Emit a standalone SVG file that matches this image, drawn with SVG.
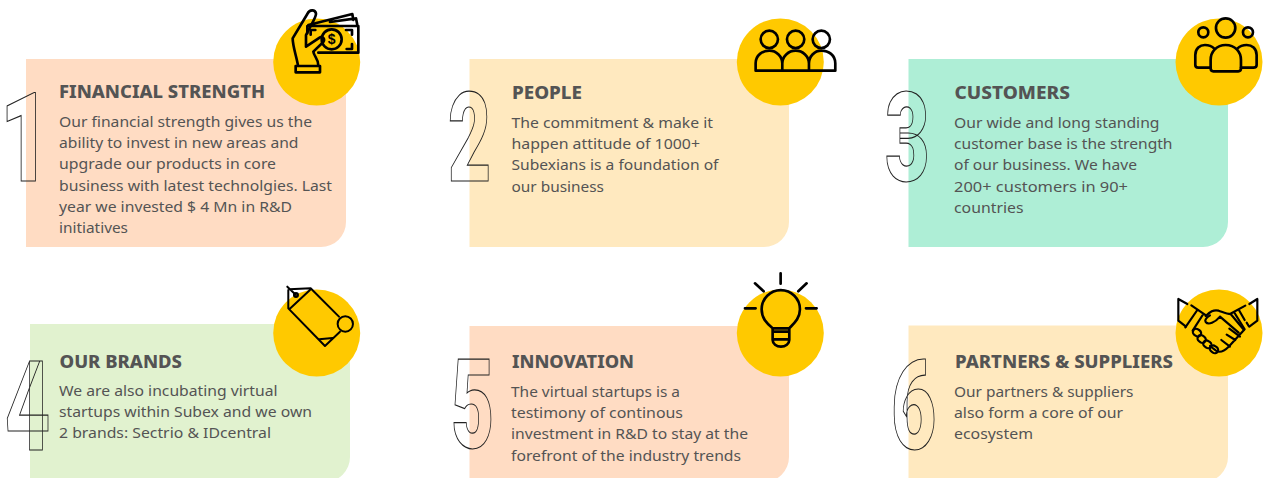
<svg xmlns="http://www.w3.org/2000/svg" width="1267" height="478" viewBox="0 0 1267 478">
<style>
.card{stroke:none}
.disc{fill:#FFC900}
.h{font:800 17px "Noto Sans","Lato",sans-serif;fill:#545454}
.b{font:400 14.800px "Noto Sans","Lato",sans-serif;fill:#545454}
.n{font:900 124px "Roboto","Liberation Sans",sans-serif;fill:none;stroke:#222;stroke-width:1;vector-effect:non-scaling-stroke}
.i{fill:none;stroke:#000;stroke-width:8;stroke-linecap:round;stroke-linejoin:round}
.d{font:700 42px "Liberation Sans",sans-serif;fill:#000}
</style>
<rect width="1267" height="478" fill="#fff"/>
<g id="node-1">
<path class="card" fill="#FFDCC3" d="M26 59H346V222A25 25 0 0 1 321 247H26Z"/>
<circle class="disc" cx="316.7" cy="62" r="43.5"/>
<text class="n" transform="translate(0 181) scale(.7 1)">1</text>
<text class="h" x="59" y="98" textLength="206" lengthAdjust="spacingAndGlyphs">FINANCIAL STRENGTH</text>
<text class="b" x="59" y="127" textLength="253" lengthAdjust="spacingAndGlyphs">Our financial strength gives us the</text>
<text class="b" x="59" y="148.2" textLength="239.5" lengthAdjust="spacingAndGlyphs">ability to invest in new areas and</text>
<text class="b" x="59" y="169.4" textLength="217" lengthAdjust="spacingAndGlyphs">upgrade our products in core</text>
<text class="b" x="59" y="190.6" textLength="273" lengthAdjust="spacingAndGlyphs">business with latest technolgies. Last</text>
<text class="b" x="59" y="211.8" textLength="233" lengthAdjust="spacingAndGlyphs">year we invested $ 4 Mn in R&amp;D</text>
<text class="b" x="59" y="233" textLength="69" lengthAdjust="spacingAndGlyphs">initiatives</text>
<g class="i" transform="translate(270 0) scale(.3333)">
<rect x="77" y="198" width="73" height="19"/>
<path d="M84 197C80 170 68 140 68 115L112 42C118 28 135 28 138 40C140 50 128 65 108 105L108 140L150 112C158 108 166 118 160 126L130 155C132 170 145 175 145 197"/>
<path d="M112 100V78H265V158H145M115 75L247 42L250 60M258 55L262 75M180 66L258 55"/>
<circle cx="185" cy="118" r="30"/>
<path d="M122 104V90H136M228 90H246V104M246 132V147H230"/>
<text class="d" x="185" y="133" text-anchor="middle" stroke="none" fill="#000">$</text>
</g>
</g>
<g id="node-2">
<path class="card" fill="#FFE9BF" d="M469.5 59H789V222A25 25 0 0 1 764 247H469.5Z"/>
<circle class="disc" cx="780.3" cy="62" r="43.5"/>
<text class="n" transform="translate(448 181) scale(.6 1)">2</text>
<text class="h" x="512" y="99" textLength="70" lengthAdjust="spacingAndGlyphs">PEOPLE</text>
<text class="b" x="511.5" y="128" textLength="201.5" lengthAdjust="spacingAndGlyphs">The commitment &amp; make it</text>
<text class="b" x="511.5" y="149.2" textLength="188.5" lengthAdjust="spacingAndGlyphs">happen attitude of 1000+</text>
<text class="b" x="511.5" y="170.4" textLength="207" lengthAdjust="spacingAndGlyphs">Subexians is a foundation of</text>
<text class="b" x="511.5" y="191.6" textLength="92.5" lengthAdjust="spacingAndGlyphs">our business</text>
<g class="i" transform="translate(440 0) scale(.3333)">
<circle cx="988" cy="118" r="26"/><circle cx="1067" cy="118" r="26"/><circle cx="1144" cy="118" r="26"/>
<path d="M947 212H1186M947 212V190C947 165 968 152 988 152C1010 152 1027 170 1027 190V212M1027 190C1027 170 1045 152 1067 152C1089 152 1107 170 1107 190V212M1107 190C1107 170 1123 152 1144 152C1166 152 1186 165 1186 190V212"/>
</g>
</g>
<g id="node-3">
<path class="card" fill="#AEEED6" d="M908.500 59H1228V222A25 25 0 0 1 1203 247H908.500Z"/>
<circle class="disc" cx="1219" cy="62" r="43.5"/>
<text class="n" transform="translate(885 181) scale(.62 1)">3</text>
<text class="h" x="954.5" y="99" textLength="115.5" lengthAdjust="spacingAndGlyphs">CUSTOMERS</text>
<text class="b" x="954" y="128" textLength="205.5" lengthAdjust="spacingAndGlyphs">Our wide and long standing</text>
<text class="b" x="954" y="149.2" textLength="218.5" lengthAdjust="spacingAndGlyphs">customer base is the strength</text>
<text class="b" x="954" y="170.4" textLength="183" lengthAdjust="spacingAndGlyphs">of our business. We have</text>
<text class="b" x="954" y="191.6" textLength="174" lengthAdjust="spacingAndGlyphs">200+ customers in 90+</text>
<text class="b" x="954" y="212.8" textLength="69.5" lengthAdjust="spacingAndGlyphs">countries</text>
<g class="i" transform="translate(880 0) scale(.3333)">
<circle cx="1037" cy="84" r="29"/><circle cx="970" cy="97" r="15"/><circle cx="1104" cy="97" r="15"/>
<path d="M992 205V180C992 155 1010 135 1037 135C1065 135 1083 155 1083 180V205Q1083 214 1075 214H1000Q992 214 992 205Z"/>
<path d="M992 203H955Q946 203 946 195V165C946 145 960 135 975 135C985 135 995 138 1003 146M1083 203H1120Q1130 203 1130 195V165C1130 145 1116 135 1100 135C1090 135 1080 138 1072 146"/>
</g>
</g>
<g id="node-4">
<path class="card" fill="#E1F2CF" d="M30 324H350V457A25 25 0 0 1 325 482H30Z"/>
<circle class="disc" cx="316.7" cy="333" r="43.5"/>
<text class="n" transform="translate(5 449.500) scale(.63 1)">4</text>
<text class="h" x="59.5" y="367.500" textLength="122.5" lengthAdjust="spacingAndGlyphs">OUR BRANDS</text>
<text class="b" x="59" y="396" textLength="218.5" lengthAdjust="spacingAndGlyphs">We are also incubating virtual</text>
<text class="b" x="59" y="417.2" textLength="253" lengthAdjust="spacingAndGlyphs">startups within Subex and we own</text>
<text class="b" x="59" y="438.4" textLength="212" lengthAdjust="spacingAndGlyphs">2 brands: Sectrio &amp; IDcentral</text>
<g class="i" transform="translate(0 270) scale(.3333)" style="stroke-width:6">
<path d="M862 50L888 75M865 60V115L975 228L1020 185M868 58L932 55L1017 140M930 60L868 118M958 208L998 204"/>
<circle cx="888" cy="75" r="6"/><circle cx="1036" cy="162" r="23"/>
</g>
</g>
<g id="node-5">
<path class="card" fill="#FFDCC3" d="M469.5 326H789V457A25 25 0 0 1 764 482H469.5Z"/>
<circle class="disc" cx="780.3" cy="333" r="43.5"/>
<text class="n" transform="translate(451 448) scale(.6 1)">5</text>
<text class="h" x="512" y="367.7" textLength="122" lengthAdjust="spacingAndGlyphs">INNOVATION</text>
<text class="b" x="511" y="397" textLength="169" lengthAdjust="spacingAndGlyphs">The virtual startups is a</text>
<text class="b" x="511" y="418.2" textLength="172" lengthAdjust="spacingAndGlyphs">testimony of continous</text>
<text class="b" x="511" y="439.4" textLength="237" lengthAdjust="spacingAndGlyphs">investment in R&amp;D to stay at the</text>
<text class="b" x="511" y="460.6" textLength="230" lengthAdjust="spacingAndGlyphs">forefront of the industry trends</text>
<g class="i" transform="translate(440 265) scale(.3333)">
<path d="M998 190C980 175 965 160 965 133A57 57 0 1 1 1080 133C1080 160 1062 175 1048 190M998 190H1048M998 190V225A25 20 0 0 0 1048 225V190M998 200H1048M998 223H1048"/>
<path d="M1022 25V56M945 55L971 79M1100 55L1075 79M915 130H947M1098 130H1130"/>
</g>
</g>
<g id="node-6">
<path class="card" fill="#FFE9BF" d="M908.5 325.500H1228V457A25 25 0 0 1 1203 482H908.5Z"/>
<circle class="disc" cx="1219" cy="333" r="43.5"/>
<text class="n" transform="translate(891 448.500) scale(.63 1)">6</text>
<text class="h" x="955" y="367.700" textLength="218" lengthAdjust="spacingAndGlyphs">PARTNERS &amp; SUPPLIERS</text>
<text class="b" x="954" y="397" textLength="179.500" lengthAdjust="spacingAndGlyphs">Our partners &amp; suppliers</text>
<text class="b" x="954" y="418.200" textLength="169" lengthAdjust="spacingAndGlyphs">also form a core of our</text>
<text class="b" x="954" y="439.400" textLength="79" lengthAdjust="spacingAndGlyphs">ecosystem</text>
<g class="i" transform="translate(1170 290) scale(.3333)" style="stroke-width:6.5">
<path d="M52 42L25 27V92L48 110M238 42L262 27V92L238 110"/>
<path d="M64 46L108 76M82 60L46 112M100 72L68 122M226 47L180 72M192 66L224 118M208 62L224 90M230 98L236 108"/>
<path d="M107 78C120 66 130 58 146 62C158 66 170 72 182 72L222 120L176 170C164 182 150 190 138 182L120 168M150 80C135 98 115 106 107 96C103 90 108 84 120 76M150 80L206 128M178 116L210 140M170 134L196 150M154 150L180 170"/>
<rect x="68" y="118" width="26" height="20" rx="10" transform="rotate(35 81 128)"/>
<rect x="82" y="137" width="26" height="20" rx="10" transform="rotate(35 95 147)"/>
<rect x="99" y="153" width="26" height="20" rx="10" transform="rotate(35 112 163)"/>
<rect x="119" y="168" width="26" height="20" rx="10" transform="rotate(35 132 178)"/>
</g>
</g>
<g id="connectors"/>
</svg>
